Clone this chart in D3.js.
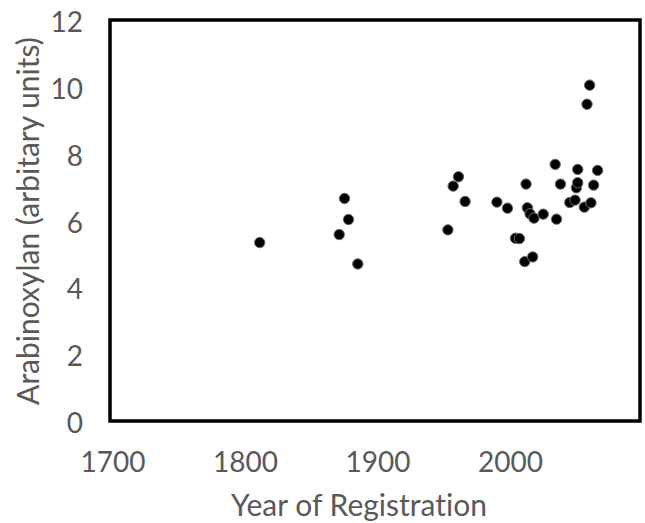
<!DOCTYPE html>
<html>
<head>
<meta charset="utf-8">
<script src="https://cdn.jsdelivr.net/npm/d3@7"></script>
<style>
body { margin: 0; background: #fff; }
text { font-family: Lato, "Open Sans", sans-serif; fill: #595959; font-variant-ligatures: none; }
</style>
</head>
<body>
<svg width="645" height="523"></svg>
<script>
// year of registration vs arabinoxylan
var years = [1813, 1873, 1877, 1880, 1887, 1955, 1959, 1963, 1968, 1992,
  2000, 2006, 2009, 2013, 2014, 2015, 2017, 2019, 2020, 2027,
  2036, 2037, 2040, 2047, 2051, 2052, 2053, 2053, 2058, 2060,
  2062, 2063, 2065, 2068];
var arabinoxylan = [5.34, 5.58, 6.66, 6.03, 4.70, 5.72, 7.03, 7.31, 6.57, 6.55,
  6.37, 5.47, 5.46, 4.77, 7.09, 6.38, 6.20, 4.91, 6.07, 6.19,
  7.68, 6.04, 7.09, 6.54, 6.61, 6.98, 7.13, 7.53, 6.40, 9.48,
  10.05, 6.53, 7.06, 7.50];
var xTicks = [1700, 1800, 1900, 2000];
var yTicks = [0, 2, 4, 6, 8, 10, 12];

var svg = d3.select("svg");

var x = d3.scaleLinear()
  .domain([1700, 2100])
  .range([110, 640]);

var y = d3.scaleLinear()
  .domain([0, 12])
  .range([421, 20]);

var points = years.map(function(d, i) { return [d, arabinoxylan[i]]; });

svg.append("rect")
  .attr("x", x(1700))
  .attr("y", y(12))
  .attr("width", x(2100) - x(1700))
  .attr("height", y(0) - y(12))
  .attr("fill", "none")
  .attr("stroke", "#000")
  .attr("stroke-width", 3.5);

// tick labels only, excel style
svg.selectAll(".xtick")
  .data(xTicks)
  .enter().append("text")
  .attr("class", "xtick")
  .attr("x", function(d) { return x(d) + 3; })
  .attr("y", 472)
  .attr("text-anchor", "middle")
  .attr("font-size", 28)
  .text(function(d) { return d; });

svg.selectAll(".ytick")
  .data(yTicks)
  .enter().append("text")
  .attr("class", "ytick")
  .attr("x", 83)
  .attr("y", function(d) { return y(d) + 12; })
  .attr("text-anchor", "end")
  .attr("font-size", 28)
  .text(function(d) { return d; });

svg.append("text")
  .attr("x", 359)
  .attr("y", 516)
  .attr("text-anchor", "middle")
  .attr("font-size", 30)
  .text("Year of Registration");

svg.append("text")
  .attr("transform", "translate(39,221) rotate(-90)")
  .attr("text-anchor", "middle")
  .attr("font-size", 30)
  .text("Arabinoxylan (arbitary units)");

svg.selectAll(".dot")
  .data(points)
  .enter().append("circle")
  .attr("class", "dot")
  .attr("cx", function(d) { return x(d[0]); })
  .attr("cy", function(d) { return y(d[1]); })
  .attr("r", 5.2)
  .attr("fill", "#000")
  .attr("stroke", "#6e6e6e")
  .attr("stroke-width", 1);
</script>
</body>
</html>
